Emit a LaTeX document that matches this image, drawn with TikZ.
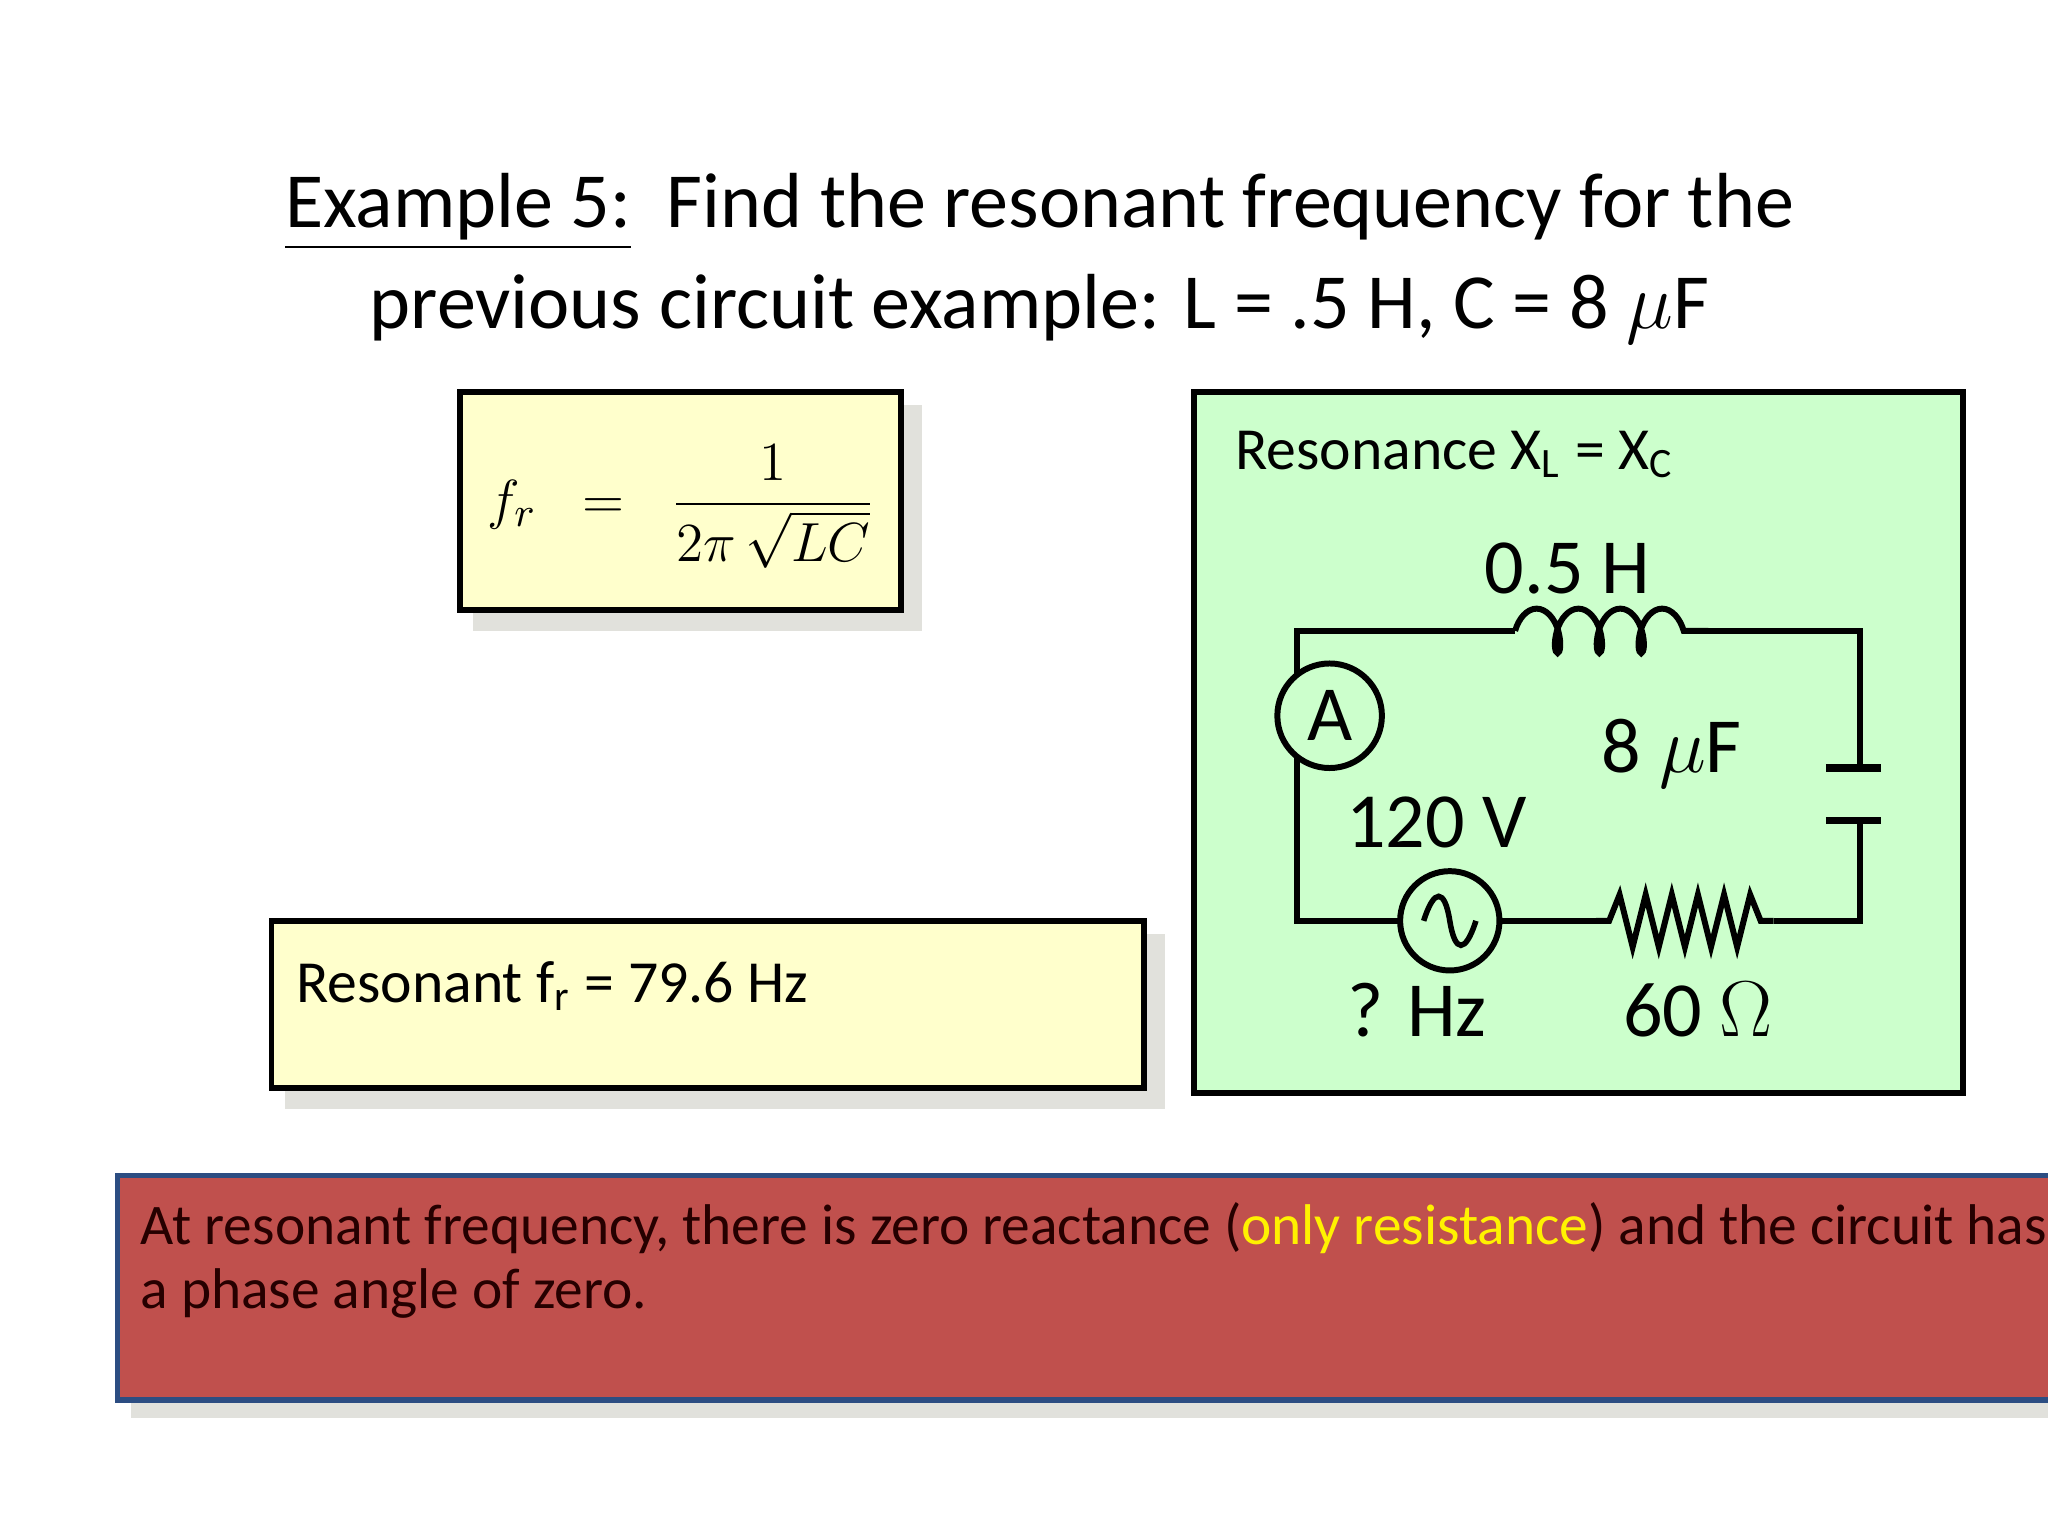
\documentclass[tikz,border=0pt]{standalone}
\usepackage{fontspec}
\setmainfont{Carlito}
\usetikzlibrary{decorations.pathmorphing}
\definecolor{lyel}{RGB}{255,255,204}
\definecolor{lgrn}{RGB}{204,255,204}
\definecolor{rbox}{RGB}{192,80,77}
\definecolor{bbord}{RGB}{44,77,130}
\definecolor{shad}{RGB}{225,225,220}
\begin{document}
\begin{tikzpicture}[x=0.01cm,y=-0.01cm,
  box/.style={draw=black,line width=1.2pt},
  wire/.style={line width=1.3pt},
  lab/.style={font=\fontsize{17}{20}\selectfont,inner sep=0pt}]
\useasboundingbox (0,0) rectangle (1568,1176);
% title
\node[font=\fontsize{17}{21}\selectfont,inner sep=0pt] (t1) at (796,162) {\underline{Example 5:}\ \ Find the resonant frequency for the};
\node[font=\fontsize{17}{21}\selectfont,inner sep=0pt] (t2) at (796,237) {previous circuit example: L = .5 H, C = 8 $\mu$F};
% formula box
\fill[shad] (362,310) rectangle (706,483);
\draw[box,fill=lyel] (352,300) rectangle (690,467);
\node[inner sep=0pt,font=\fontsize{13}{16}\selectfont] (fm) at (522,388) {$\displaystyle f_r\;\;=\;\;\frac{1}{2\pi\,\sqrt{LC}}$};
% result box
\fill[shad] (218,715) rectangle (892,849);
\draw[box,fill=lyel] (208,705) rectangle (876,833);
\node[anchor=west,inner sep=0pt,font=\fontsize{13}{16}\selectfont] (res) at (226,755) {Resonant f\textsubscript{r} = 79.6 Hz};
% green box
\draw[box,fill=lgrn] (914,300) rectangle (1503,837);
\node[anchor=west,inner sep=0pt,font=\fontsize{13}{16}\selectfont] (rl) at (945,348) {Resonance X\textsubscript{L} = X\textsubscript{C}};
% circuit
\coordinate (tl) at (993,483); \coordinate (tr) at (1424,483);
\coordinate (bl) at (993,705); \coordinate (br) at (1424,705);
\coordinate (l1) at (1150,483); \coordinate (l2) at (1318,483);
\coordinate (c1) at (1424,588); \coordinate (c2) at (1424,628);
\coordinate (r1) at (1222,705); \coordinate (r2) at (1358,705);
\draw[wire] (l1) -- (tl) -- (bl) -- (1090,705);
\draw[wire] (1130,705) -- (r1);
\draw[wire] (r2) -- (br) -- (c2);
\draw[wire] (c1) -- (tr) -- (l2);
\node[draw,circle,line width=1.3pt,minimum size=0.8cm,inner sep=0pt,fill=lgrn,font=\fontsize{17}{20}\selectfont] (am) at (1018,548) {A};
\node[draw,circle,line width=1.3pt,minimum size=0.76cm,inner sep=0pt,fill=lgrn] (src) at (1110,705) {};
\draw[line width=1.2pt] (1090,705) .. controls (1098,680) and (1106,680) .. (1110,705) .. controls (1114,730) and (1122,730) .. (1130,705);
\draw[line width=1.6pt] (1398,588) -- (1440,588) (1398,628) -- (1440,628);
\draw[wire,decorate,decoration={coil,segment length=0.32cm,amplitude=0.17cm,aspect=0.5}] (1160,483) -- (1308,483);
\draw[wire] (l1)--(1160,483) (1308,483)--(l2);
\draw[wire] (r1) -- (1232,705) -- (1240,685) -- (1250,725) -- (1260,685) -- (1270,725) -- (1280,685) -- (1290,725) -- (1300,685) -- (1310,725) -- (1320,685) -- (1330,725) -- (1340,685) -- (1348,705) -- (r2);
\node[lab] (lb1) at (1200,435) {0.5 H};
\node[lab] (lb2) at (1280,577) {8 $\mu$F};
\node[lab] (lb3) at (1100,630) {120 V};
\node[lab] (lb4) at (1085,773) {? Hz};
\node[lab] (lb5) at (1300,773) {60 $\Omega$};
% red box
\fill[shad] (100,912) rectangle (1568,1086);
\draw[draw=bbord,line width=1.2pt,fill=rbox] (90,900) rectangle (1580,1072);
\node[anchor=north west,inner sep=0pt,align=left,text=black!85!red,font=\fontsize{12.5}{14}\selectfont] (rt) at (107,920) {At resonant frequency, there is zero reactance (\textcolor{yellow}{only resistance}) and the circuit has\\ a phase angle of zero.};
\end{tikzpicture}
\end{document}
